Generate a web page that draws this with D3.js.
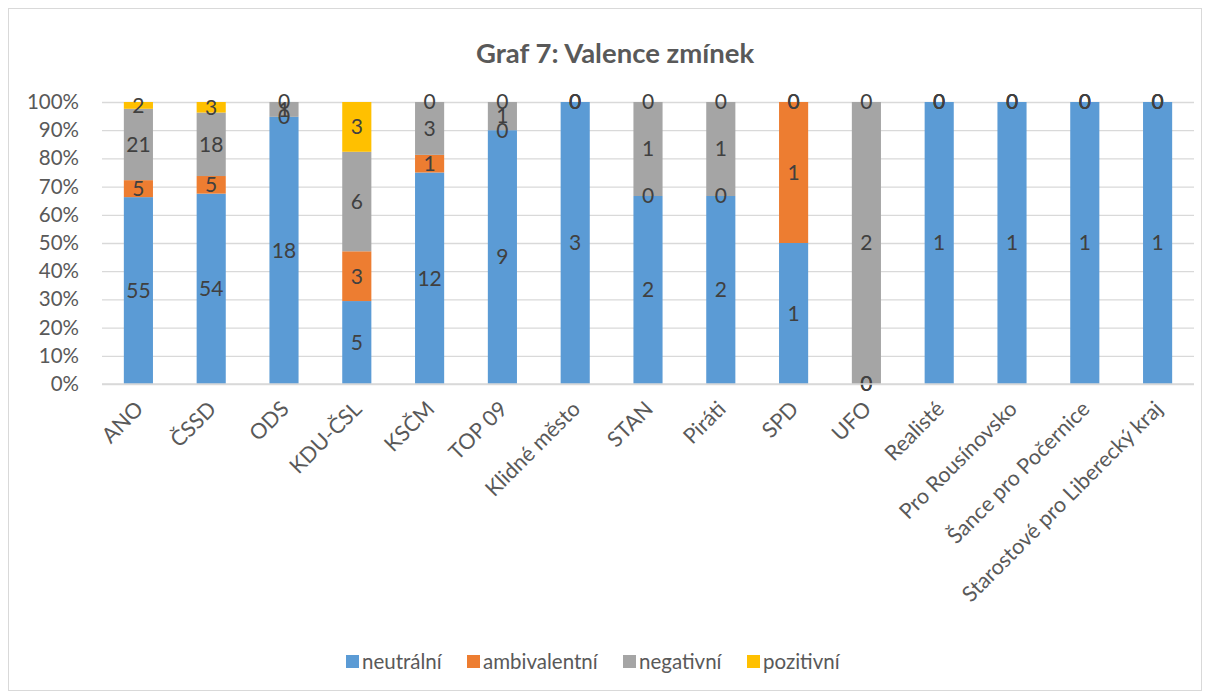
<!DOCTYPE html>
<html>
<head>
<meta charset="utf-8">
<script src="https://cdn.jsdelivr.net/npm/d3@7"></script>
<style>
  body { margin: 0; background: #fff; }
  svg { font-family: Lato, "Open Sans", sans-serif; }
</style>
</head>
<body>
<svg width="1210" height="691"></svg>
<script>
var categories = ["ANO", "ČSSD", "ODS", "KDU-ČSL", "KSČM", "TOP 09", "Klidné město", "STAN", "Piráti", "SPD", "UFO", "Realisté", "Pro Rousínovsko", "Šance pro Počernice", "Starostové pro Liberecký kraj"];
var neutralni    = [55, 54, 18, 5, 12, 9, 3, 2, 2, 1, 0, 1, 1, 1, 1];
var ambivalentni = [5, 5, 0, 3, 1, 0, 0, 0, 0, 1, 0, 0, 0, 0, 0];
var negativni    = [21, 18, 1, 6, 3, 1, 0, 1, 1, 0, 2, 0, 0, 0, 0];
var pozitivni    = [2, 3, 0, 3, 0, 0, 0, 0, 0, 0, 0, 0, 0, 0, 0];
var seriesNames  = ["neutrální", "ambivalentní", "negativní", "pozitivní"];
var colors       = ["#5B9BD5", "#ED7D31", "#A5A5A5", "#FFC000"];
var yTicks       = [0, 0.1, 0.2, 0.3, 0.4, 0.5, 0.6, 0.7, 0.8, 0.9, 1];

var svg = d3.select("svg");
var width = 1210, height = 691;

// chart border
svg.append("rect")
  .attr("x", 8.5).attr("y", 8.5)
  .attr("width", width - 17).attr("height", height - 9)
  .attr("fill", "none").attr("stroke", "#d9d9d9");

var plot = { left: 102, right: 1194, top: 102, bottom: 384 };

var x = d3.scaleBand()
  .domain(categories)
  .range([plot.left, plot.right])
  .paddingInner(0.6)
  .paddingOuter(0.3);

var y = d3.scaleLinear().domain([0, 1]).range([plot.bottom, plot.top]);

svg.append("text")
  .attr("x", 615).attr("y", 63)
  .attr("text-anchor", "middle")
  .attr("font-size", 27.5).attr("font-weight", "bold")
  .attr("fill", "#595959")
  .text("Graf 7: Valence zmínek");

// grid + y axis labels
var yAxis = svg.append("g")
  .attr("transform", "translate(" + plot.left + ",0)")
  .call(d3.axisLeft(y).tickValues(yTicks).tickFormat(d3.format(".0%"))
    .tickSize(-(plot.right - plot.left)).tickPadding(23));
yAxis.select(".domain").remove();
yAxis.selectAll(".tick line").attr("stroke", "#d9d9d9").attr("stroke-width", 1.3);
yAxis.selectAll(".tick text").attr("fill", "#595959").attr("font-size", 20.5)
  .attr("font-family", "Lato, 'Open Sans', sans-serif");

// build stacked data
var rows = categories.map(function (c, i) {
  return { cat: c, values: [neutralni[i], ambivalentni[i], negativni[i], pozitivni[i]] };
});
var segments = [];
rows.forEach(function (r) {
  var total = d3.sum(r.values);
  var acc = 0;
  r.values.forEach(function (v, s) {
    segments.push({ cat: r.cat, s: s, v: v, y0: acc / total, y1: (acc + v) / total });
    acc += v;
  });
});

svg.append("g").selectAll("rect")
  .data(segments.filter(function (d) { return d.v > 0; }))
  .join("rect")
  .attr("x", function (d) { return x(d.cat); })
  .attr("width", x.bandwidth())
  .attr("y", function (d) { return y(d.y1); })
  .attr("height", function (d) { return y(d.y0) - y(d.y1); })
  .attr("fill", function (d) { return colors[d.s]; });

// data labels
svg.append("g").selectAll("text")
  .data(segments)
  .join("text")
  .attr("x", function (d) { return x(d.cat) + x.bandwidth() / 2; })
  .attr("y", function (d) { return y((d.y0 + d.y1) / 2); })
  .attr("dy", "0.35em")
  .attr("text-anchor", "middle")
  .attr("font-size", 21)
  .attr("fill", "#404040")
  .text(function (d) { return d.v; });

// x axis baseline
svg.append("line")
  .attr("x1", plot.left).attr("x2", plot.right)
  .attr("y1", plot.bottom).attr("y2", plot.bottom)
  .attr("stroke", "#d9d9d9").attr("stroke-width", 1.3);

// x labels rotated
svg.append("g").selectAll("text")
  .data(categories)
  .join("text")
  .attr("transform", function (d) {
    return "translate(" + (x(d) + x.bandwidth() / 2 + 1) + "," + (plot.bottom + 21) + ") rotate(-45)";
  })
  .attr("text-anchor", "end")
  .attr("dy", "0.35em")
  .attr("font-size", 21.5)
  .attr("fill", "#595959")
  .text(function (d) { return d; });

// legend
var legendX = [346, 467, 623, 747];
var legend = svg.append("g").selectAll("g")
  .data(seriesNames)
  .join("g")
  .attr("transform", function (d, i) { return "translate(" + legendX[i] + ",655)"; });
legend.append("rect")
  .attr("width", 13).attr("height", 13)
  .attr("fill", function (d, i) { return colors[i]; });
legend.append("text")
  .attr("x", 16).attr("y", 7).attr("dy", "0.35em")
  .attr("font-size", 20.5).attr("fill", "#595959")
  .text(function (d) { return d; });
</script>
</body>
</html>
